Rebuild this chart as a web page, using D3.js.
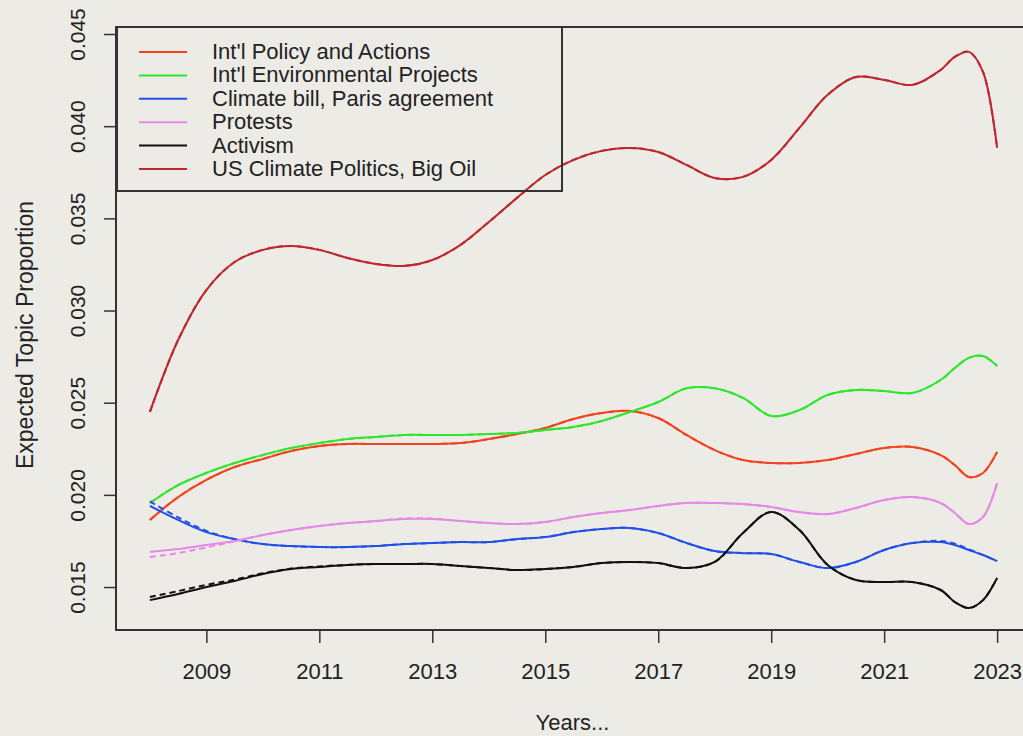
<!DOCTYPE html>
<html lang="en">
<head>
  <meta charset="UTF-8">
  <title>Expected Topic Proportion by Year</title>
  <script src="https://d3js.org/d3.v7.min.js"></script>
  <style>
    body { margin: 0; background: #EDEBE6; }
    svg { display: block; font-family: "Liberation Sans", Arial, sans-serif; }
  </style>
</head>
<body>
<svg id="chart" width="1023" height="736"></svg>

<script>
// time points (years)
const years = [2008, 2008.5, 2009, 2009.5, 2010, 2010.5, 2011, 2011.5, 2012, 2012.5,
  2013, 2013.5, 2014, 2014.5, 2015, 2015.5, 2016, 2016.5, 2017, 2017.5,
  2018, 2018.5, 2019, 2019.5, 2020, 2020.5, 2021, 2021.5, 2022, 2022.25,
  2022.5, 2022.75, 2023];

const intlPolicy = [0.01864, 0.01988, 0.02081, 0.02151, 0.02195, 0.02238, 0.02265, 0.02276, 0.02276, 0.02276,
  0.02276, 0.02281, 0.02303, 0.02330, 0.02363, 0.02412, 0.02444, 0.02455, 0.02417, 0.02325,
  0.02243, 0.02189, 0.02173, 0.02173, 0.02189, 0.02222, 0.02254, 0.02260, 0.02216, 0.02162,
  0.02097, 0.02119, 0.02233];

const intlEnv = [0.01956, 0.02053, 0.02119, 0.02173, 0.02216, 0.02254, 0.02281, 0.02303, 0.02314, 0.02325,
  0.02325, 0.02325, 0.02330, 0.02336, 0.02352, 0.02368, 0.02401, 0.02450, 0.02504, 0.02578,
  0.02578, 0.02526, 0.02428, 0.02460, 0.02542, 0.02569, 0.02563, 0.02553, 0.02623, 0.02688,
  0.02743, 0.02753, 0.02699];

const climateBill = [0.01940, 0.01864, 0.01798, 0.01760, 0.01733, 0.01722, 0.01717, 0.01717, 0.01722, 0.01733,
  0.01739, 0.01744, 0.01744, 0.01760, 0.01771, 0.01798, 0.01815, 0.01820, 0.01793, 0.01739,
  0.01695, 0.01684, 0.01679, 0.01636, 0.01603, 0.01636, 0.01701, 0.01739, 0.01744, 0.01728,
  0.01701, 0.01674, 0.01641];

const protests = [0.01690, 0.01706, 0.01728, 0.01750, 0.01782, 0.01809, 0.01831, 0.01847, 0.01858, 0.01869,
  0.01869, 0.01858, 0.01847, 0.01842, 0.01853, 0.01880, 0.01902, 0.01918, 0.01940, 0.01956,
  0.01956, 0.01950, 0.01934, 0.01907, 0.01896, 0.01929, 0.01972, 0.01988, 0.01956, 0.01902,
  0.01842, 0.01880, 0.02064];

const activism = [0.01429, 0.01462, 0.01500, 0.01533, 0.01571, 0.01598, 0.01609, 0.01620, 0.01625, 0.01625,
  0.01625, 0.01614, 0.01603, 0.01592, 0.01598, 0.01609, 0.01630, 0.01636, 0.01630, 0.01603,
  0.01636, 0.01793, 0.01907, 0.01809, 0.01620, 0.01538, 0.01527, 0.01527, 0.01484, 0.01419,
  0.01386, 0.01429, 0.01549];

const usPolitics = [0.02450, 0.02840, 0.03111, 0.03263, 0.03329, 0.03350, 0.03329, 0.03285, 0.03253, 0.03242,
  0.03274, 0.03356, 0.03480, 0.03611, 0.03735, 0.03817, 0.03866, 0.03882, 0.03860, 0.03790,
  0.03719, 0.03725, 0.03817, 0.03991, 0.04170, 0.04267, 0.04251, 0.04224, 0.04305, 0.04376,
  0.04403, 0.04294, 0.03882];

// dashed companion curves (only differ noticeably near the start)
const climateBillDashed = [0.01965, 0.01878, 0.01805, 0.01760, 0.01733, 0.01722, 0.01717, 0.01717, 0.01722, 0.01733,
  0.01739, 0.01744, 0.01744, 0.01760, 0.01771, 0.01798, 0.01815, 0.01820, 0.01793, 0.01739,
  0.01695, 0.01684, 0.01679, 0.01636, 0.01603, 0.01636, 0.01701, 0.01739, 0.01750, 0.01735,
  0.01705, 0.01674, 0.01641];

const protestsDashed = [0.01663, 0.01684, 0.01715, 0.01748, 0.01782, 0.01809, 0.01831, 0.01847, 0.01858, 0.01872,
  0.01872, 0.01858, 0.01847, 0.01842, 0.01853, 0.01880, 0.01902, 0.01918, 0.01940, 0.01956,
  0.01956, 0.01950, 0.01934, 0.01907, 0.01896, 0.01929, 0.01972, 0.01988, 0.01956, 0.01902,
  0.01842, 0.01880, 0.02064];

const activismDashed = [0.01446, 0.01478, 0.01512, 0.01540, 0.01575, 0.01600, 0.01612, 0.01620, 0.01625, 0.01625,
  0.01625, 0.01614, 0.01603, 0.01592, 0.01598, 0.01609, 0.01630, 0.01636, 0.01630, 0.01603,
  0.01636, 0.01793, 0.01907, 0.01809, 0.01620, 0.01538, 0.01527, 0.01527, 0.01484, 0.01419,
  0.01386, 0.01429, 0.01549];

const seriesNames = ["Int'l Policy and Actions", "Int'l Environmental Projects", "Climate bill, Paris agreement",
  "Protests", "Activism", "US Climate Politics, Big Oil"];
const seriesColors = ["#F2421E", "#2EE62E", "#2150E6", "#E688E6", "#111111", "#BE2730"];
const seriesValues = [intlPolicy, intlEnv, climateBill, protests, activism, usPolitics];
const seriesDashed = [intlPolicy, intlEnv, climateBillDashed, protestsDashed, activismDashed, usPolitics];

const xTicks = [2009, 2011, 2013, 2015, 2017, 2019, 2021, 2023];
const yTicks = [0.015, 0.020, 0.025, 0.030, 0.035, 0.040, 0.045];

const svg = d3.select("#chart");

// plot box (R style, with 4% padding on both axes)
const box = { left: 116, top: 27, right: 1031, bottom: 630 };

const x = d3.scaleLinear().domain([2007.4, 2023.6]).range([box.left, box.right]);
const y = d3.scaleLinear().domain([0.01267, 0.04538]).range([box.bottom, box.top]);

const line = d3.line()
  .x(d => x(d[0]))
  .y(d => y(d[1]))
  .curve(d3.curveCatmullRom.alpha(0.5));

// curves
seriesValues.forEach((vals, i) => {
  svg.append("path")
    .datum(years.map((yr, j) => [yr, seriesDashed[i][j]]))
    .attr("d", line)
    .attr("fill", "none")
    .attr("stroke", seriesColors[i])
    .attr("stroke-width", 2)
    .attr("stroke-dasharray", "6,4");

  svg.append("path")
    .datum(years.map((yr, j) => [yr, vals[j]]))
    .attr("d", line)
    .attr("fill", "none")
    .attr("stroke", seriesColors[i])
    .attr("stroke-width", 2);
});

// box
svg.append("rect")
  .attr("x", box.left)
  .attr("y", box.top)
  .attr("width", box.right - box.left)
  .attr("height", box.bottom - box.top)
  .attr("fill", "none")
  .attr("stroke", "#333")
  .attr("stroke-width", 2);

// x axis
const xAxis = svg.append("g")
  .attr("transform", `translate(0,${box.bottom})`)
  .call(d3.axisBottom(x).tickValues(xTicks).tickSize(13).tickPadding(20).tickFormat(d3.format("d")));
xAxis.select(".domain").remove();
xAxis.selectAll("line").attr("stroke", "#333").attr("stroke-width", 1.5);
xAxis.selectAll("text")
  .attr("fill", "#222")
  .style("font-size", "22px")
  .style("font-family", "'Liberation Sans', Arial, sans-serif");

// y axis, labels rotated like R's las = 0
const yAxis = svg.append("g")
  .attr("transform", `translate(${box.left},0)`)
  .call(d3.axisLeft(y).tickValues(yTicks).tickSize(12).tickFormat(d3.format(".3f")));
yAxis.select(".domain").remove();
yAxis.selectAll("line").attr("stroke", "#333").attr("stroke-width", 1.5);
yAxis.selectAll("text")
  .attr("x", 0)
  .attr("y", -31)
  .attr("dy", 0)
  .attr("transform", "rotate(-90)")
  .attr("text-anchor", "middle")
  .attr("fill", "#222")
  .style("font-size", "21px")
  .style("font-family", "'Liberation Sans', Arial, sans-serif");

// axis titles
svg.append("text")
  .attr("x", (box.left + box.right) / 2 - 1)
  .attr("y", 730)
  .attr("text-anchor", "middle")
  .attr("fill", "#222")
  .style("font-size", "22px")
  .text("Years...");

svg.append("text")
  .attr("transform", "translate(33,335) rotate(-90)")
  .attr("text-anchor", "middle")
  .attr("fill", "#222")
  .style("font-size", "23px")
  .text("Expected Topic Proportion");

// legend (topleft, transparent background)
const legend = svg.append("g");
legend.append("rect")
  .attr("x", 117)
  .attr("y", 27)
  .attr("width", 445)
  .attr("height", 164)
  .attr("fill", "none")
  .attr("stroke", "#333")
  .attr("stroke-width", 2);

seriesNames.forEach((name, i) => {
  const rowY = 52 + i * 23.4;
  legend.append("line")
    .attr("x1", 139)
    .attr("x2", 187)
    .attr("y1", rowY)
    .attr("y2", rowY)
    .attr("stroke", seriesColors[i])
    .attr("stroke-width", 2);
  legend.append("text")
    .attr("x", 212)
    .attr("y", rowY + 7)
    .attr("fill", "#222")
    .style("font-size", "22px")
    .text(name);
});
</script>
</body>
</html>
